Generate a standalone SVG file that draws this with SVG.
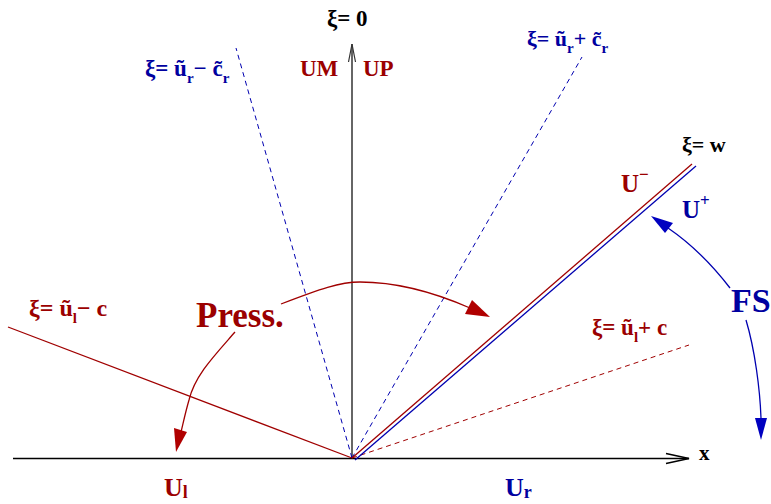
<svg xmlns="http://www.w3.org/2000/svg" width="771" height="504" viewBox="0 0 771 504">
<style>
text{font-family:"Liberation Serif","Times New Roman",serif;font-weight:bold}
.r{fill:#9b0000}
.b{fill:#0000a0}
.k{fill:#000}
.lr{stroke:#a00000;stroke-width:1.3;fill:none}
.lb{stroke:#0000b0;stroke-width:1.3;fill:none}
.dr{stroke:#a00000;stroke-width:1;stroke-dasharray:5,4;fill:none}
.db{stroke:#0000b0;stroke-width:1;stroke-dasharray:5,4;fill:none}
.ax{stroke:#000;stroke-width:1.5;fill:none}
.sub{font-size:15px}
</style>
<g id="connectors">
<path class="ax" d="M13,458.5 H689"/>
<path class="ax" d="M666,453.5 L689,458.5 L666,463.5"/>
<path class="ax" style="stroke:#333" d="M352,458 V44"/>
<path class="ax" style="stroke:#333;stroke-width:1.2" d="M348.5,62 L352,44 L355.5,62"/>
<path class="lr" d="M352,458 L8,327"/>
<path class="db" d="M352,458 L236,48"/>
<path class="db" d="M352,458 L582,57"/>
<path class="dr" d="M352,458 L689,345"/>
<path class="lr" d="M352,458 L692,164"/>
<path class="lb" d="M355,460 L696,166"/>
<path class="lr" d="M281,304 C320,289 340,282 360,282 C400,282 438,294 470,308"/>
<polygon fill="#b00000" points="490,317 472,300 465,314"/>
<path class="lr" d="M235,332 C215,355 195,375 189,400 C185,414 183,424 181,432"/>
<polygon fill="#b00000" points="176,452 174,428 187,432"/>
<path class="lb" d="M730,288 C710,262 690,243 668,228"/>
<polygon fill="#0000c0" points="651,216 673,223 665,233"/>
<path class="lb" d="M746,320 C755,350 760,390 761,418"/>
<polygon fill="#0000c0" points="761,440 755,418 767,418"/>
</g>
<g id="label-xi0"><text class="k" x="327" y="26" font-size="23">ξ= 0</text></g>
<g id="label-um"><text class="r" x="300" y="76" font-size="23">UM</text></g>
<g id="label-up"><text class="r" x="363" y="76" font-size="23">UP</text></g>
<g id="label-urmcr"><text class="b" x="145" y="76" font-size="23">ξ= ũ<tspan class="sub" dy="7">r</tspan><tspan dy="-7">− c̃</tspan><tspan class="sub" dy="7">r</tspan></text></g>
<g id="label-urpcr"><text class="b" x="527" y="46" font-size="22">ξ= ũ<tspan class="sub" dy="7">r</tspan><tspan dy="-7">+ c̃</tspan><tspan class="sub" dy="7">r</tspan></text></g>
<g id="label-w"><text class="k" x="682" y="152" font-size="22">ξ= w</text></g>
<g id="label-um2"><text class="r" x="621" y="192" font-size="25">U<tspan font-size="17" dy="-12">−</tspan></text></g>
<g id="label-up2"><text class="b" x="682" y="218" font-size="25">U<tspan font-size="17" dy="-12">+</tspan></text></g>
<g id="label-fs"><text class="b" x="731" y="312" font-size="34">FS</text></g>
<g id="label-ulmc"><text class="r" x="29" y="316" font-size="24">ξ= ũ<tspan class="sub" dy="7">l</tspan><tspan dy="-7">− c</tspan></text></g>
<g id="label-press"><text class="r" x="196" y="327" font-size="35">Press.</text></g>
<g id="label-ulpc"><text class="r" x="592" y="335" font-size="23">ξ= ũ<tspan class="sub" dy="7">l</tspan><tspan dy="-7">+ c</tspan></text></g>
<g id="label-ul"><text class="r" x="164" y="496" font-size="26">U<tspan font-size="18" dy="2">l</tspan></text></g>
<g id="label-ur"><text class="b" x="505" y="496" font-size="26">U<tspan font-size="18" dy="2">r</tspan></text></g>
<g id="label-x"><text class="k" x="699" y="460" font-size="21">x</text></g>
</svg>
